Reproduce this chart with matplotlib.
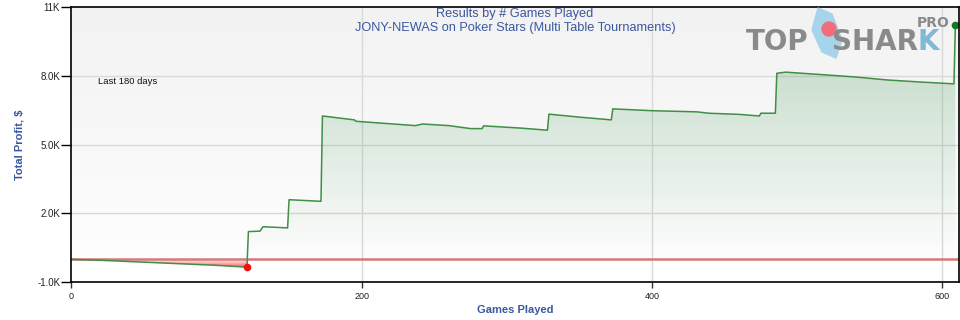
import matplotlib
matplotlib.use("Agg")
import matplotlib.pyplot as plt
import numpy as np
from matplotlib.ticker import FixedLocator
from matplotlib.colors import LinearSegmentedColormap
from matplotlib.patches import Ellipse, Circle, Polygon

plt.rcParams['font.family'] = ['Liberation Sans', 'DejaVu Sans']

# ---- data ----
games = [0, 20, 60, 100, 121, 122, 130, 132, 140, 149, 150, 172, 173, 195, 196,
         237, 242, 260, 275, 283, 284, 310, 328, 329, 350, 372, 373, 400, 431,
         439, 460, 474, 475, 485, 486, 492, 520, 540, 562, 585, 608, 609]
profit = [0, -40, -150, -260, -340, 1210, 1230, 1420, 1400, 1370, 2600, 2530,
          6250, 6080, 6020, 5830, 5900, 5830, 5700, 5700, 5820, 5720, 5630,
          6330, 6200, 6080, 6560, 6480, 6430, 6370, 6320, 6250, 6370, 6370,
          8110, 8160, 8040, 7950, 7820, 7730, 7650, 10220]
y_ticks = [-1000, 2000, 5000, 8000, 11000]
y_tick_labels = ['-1.0K', '2.0K', '5.0K', '8.0K', '11K']
x_ticks = [0, 200, 400, 600]
title1 = 'Results by # Games Played'
title2 = 'JONY-NEWAS on Poker Stars (Multi Table Tournaments)'
x_label = 'Games Played'
y_label = 'Total Profit, $'
note = 'Last 180 days'

W, H = 960, 320
fig = plt.figure(figsize=(W / 100, H / 100), dpi=100)
fig.patch.set_facecolor('white')
L, R, T, B = 71.3, 959, 7, 282.3
ax = fig.add_axes([L / W, 1 - B / H, (R - L) / W, (B - T) / H])

xmin, xmax = 0, 611.5
ymin, ymax = -1000, 11000
ax.set_xlim(xmin, xmax)
ax.set_ylim(ymin, ymax)

# plot background gradient
bg = np.linspace(0, 1, 256).reshape(-1, 1)
bg_cmap = LinearSegmentedColormap.from_list('bg', ['#ffffff', '#f2f2f2'])
ax.imshow(bg, extent=[xmin, xmax, ymin, ymax], origin='lower', aspect='auto',
          cmap=bg_cmap, zorder=0, interpolation='bilinear')

# grid
for yt in y_ticks[1:-1]:
    ax.axhline(yt, color='#d9d9d9', lw=1, zorder=1)
for xt in x_ticks[1:]:
    ax.axvline(xt, color='#d9d9d9', lw=1, zorder=1)

x = np.array(games, dtype=float)
y = np.array(profit, dtype=float)

# positive fill gradient (green)
pos = ax.fill_between(x, np.maximum(y, 0), 0, color='none', lw=0)
g = np.linspace(0, 1, 256).reshape(-1, 1)
gcmap = LinearSegmentedColormap.from_list(
    'g', [(0.30, 0.62, 0.38, 0.0), (0.30, 0.62, 0.38, 0.27)])
im = ax.imshow(g, extent=[xmin, xmax, 0, 9000], origin='lower', aspect='auto',
               cmap=gcmap, zorder=2, interpolation='bilinear')
im.set_clip_path(pos.get_paths()[0], transform=ax.transData)
im2 = ax.imshow(np.ones((2, 2)), extent=[xmin, xmax, 9000, ymax], origin='lower',
                aspect='auto', cmap=LinearSegmentedColormap.from_list(
                    'g2', [(0.30, 0.62, 0.38, 0.27), (0.30, 0.62, 0.38, 0.27)]),
                zorder=2)
im2.set_clip_path(pos.get_paths()[0], transform=ax.transData)

# negative fill gradient (red)
neg = ax.fill_between(x, np.minimum(y, 0), 0, color='none', lw=0)
rcmap = LinearSegmentedColormap.from_list(
    'r', [(1.0, 0.2, 0.2, 0.95), (1.0, 0.55, 0.55, 0.15)])
imr = ax.imshow(g, extent=[xmin, xmax, -360, 0], origin='lower', aspect='auto',
                cmap=rcmap, zorder=2, interpolation='bilinear')
imr.set_clip_path(neg.get_paths()[0], transform=ax.transData)

# zero line
ax.axhline(0, color='#d47a7a', lw=1.8, zorder=3)

# line
ax.plot(x, y, color='#3f8f45', lw=1.1, zorder=4)
imin = int(np.argmin(y))
ax.plot([x[imin]], [y[imin]], 'o', color='#ee1111', ms=4.5, zorder=5)
ax.plot([x[-1]], [y[-1]], 'o', color='#0f7a1f', ms=4.5, zorder=5)

# axes styling
for s in ax.spines.values():
    s.set_color('black')
    s.set_linewidth(1.2)
    s.set_zorder(6)
ax.yaxis.set_major_locator(FixedLocator(y_ticks))
ax.set_yticklabels(y_tick_labels)
ax.xaxis.set_major_locator(FixedLocator(x_ticks))
ax.set_xticklabels([str(v) for v in x_ticks])
ax.tick_params(axis='y', length=7, width=1, color='black', labelsize=7,
               labelcolor='#222222', pad=1)
ax.tick_params(axis='x', length=4, width=1, color='#333333', labelsize=6.5,
               labelcolor='#222222', pad=3)

# titles
tc = '#3a57a0'
fig.text(515 / W, 1 - 14 / H, title1, ha='center', va='center', fontsize=9.2,
         color=tc)
fig.text(515 / W, 1 - 28.5 / H, title2, ha='center', va='center', fontsize=9.2,
         color=tc)
fig.text(515 / W, 1 - 310 / H, x_label, ha='center', va='center', fontsize=8,
         color=tc, fontweight='bold')
fig.text(19 / W, 1 - 145 / H, y_label, ha='center', va='center', fontsize=8,
         color=tc, fontweight='bold', rotation=90)
fig.text(98 / W, 1 - 81 / H, note, ha='left', va='center', fontsize=6.8,
         color='#111111')

# logo
lc = '#8a8a8a'
lax = fig.add_axes([0, 0, 1, 1], facecolor='none')
lax.set_xlim(0, W)
lax.set_ylim(H, 0)
lax.axis('off')
lax.add_patch(Polygon([(818, 8), (832, 14), (842, 40), (836, 58), (822, 52),
                       (812, 30)], closed=True, color='#a6d4ea', zorder=1))
lax.add_patch(Circle((829, 29), 7, color='#f26d7a', zorder=2))
lfont = dict(family='DejaVu Sans', fontweight='bold', fontsize=20)
fig.text(746 / W, 1 - 50 / H, 'TOP', ha='left', va='baseline', color=lc, **lfont)
t_shar = fig.text(832 / W, 1 - 50 / H, 'SHAR', ha='left', va='baseline',
                  color=lc, **lfont)
fig.canvas.draw()
bb = t_shar.get_window_extent()
fig.text(bb.x1 / W, 1 - 50 / H, 'K', ha='left', va='baseline', color='#7fb9d6',
         **lfont)
fig.text(917 / W, 1 - 27 / H, 'PRO', ha='left', va='baseline', color=lc,
         family='DejaVu Sans', fontweight='bold', fontsize=10)

fig.savefig('out.png', dpi=100)
